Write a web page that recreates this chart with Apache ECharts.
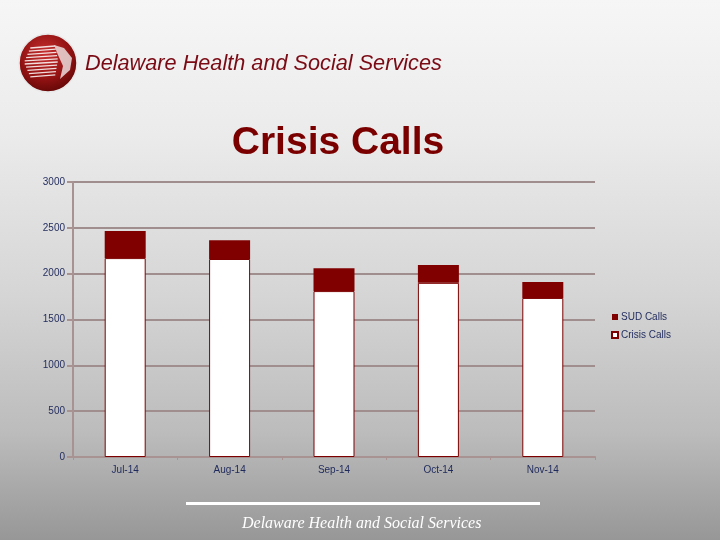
<!DOCTYPE html>
<html>
<head>
<meta charset="utf-8">
<script src="https://cdn.jsdelivr.net/npm/echarts@6/dist/echarts.min.js"></script>
<style>
html,body{margin:0;padding:0;}
#chart{width:720px;height:540px;}
</style>
</head>
<body>
<div id="chart"></div>
<script>
var categories = ['Jul-14', 'Aug-14', 'Sep-14', 'Oct-14', 'Nov-14'];
var crisisCalls = [2170, 2160, 1810, 1900, 1735];
var sudCalls = [295, 205, 250, 195, 175];
var yTicks = [0, 500, 1000, 1500, 2000, 2500, 3000];

var chart = echarts.init(document.getElementById('chart'));
var stripes = [];
for (var i = 0; i < 10; i++) {
  var yy = 48 + i * 3.2;
  stripes.push({
    type: 'line',
    shape: {x1: 24 + Math.abs(i - 4.5) * 1.4, y1: yy, x2: 58 - Math.abs(i - 4.5) * 0.6, y2: yy - 2},
    style: {stroke: 'rgba(255,255,255,0.85)', lineWidth: 1.3}
  });
}
chart.setOption({
  backgroundColor: {
    type: 'linear', x: 0, y: 0, x2: 0, y2: 1,
    colorStops: [
      {offset: 0, color: '#f6f6f6'},
      {offset: 0.25, color: '#ebebeb'},
      {offset: 0.55, color: '#d5d5d5'},
      {offset: 0.8, color: '#bcbcbc'},
      {offset: 1, color: '#979797'}
    ]
  },
  animation: false,
  title: {
    text: 'Crisis Calls',
    left: 333, top: 119, textAlign: 'center',
    textStyle: {fontFamily: 'Liberation Sans', fontWeight: 'bold', fontSize: 39, color: '#7a0000'}
  },
  legend: {
    orient: 'vertical', left: 606, top: 307, icon: 'rect',
    itemWidth: 6, itemHeight: 6, itemGap: 8,
    data: ['SUD Calls', 'Crisis Calls'],
    textStyle: {fontFamily: 'Liberation Sans', fontSize: 10, color: '#1f2a5c', padding: [0, 0, 0, -2]}
  },
  grid: {left: 73, top: 182, right: 125, bottom: 83, containLabel: false},
  xAxis: {
    type: 'category', data: categories,
    axisLine: {lineStyle: {color: '#a89292', width: 2}},
    axisTick: {show: true, length: 3, lineStyle: {color: '#a89292'}},
    axisLabel: {fontFamily: 'Liberation Sans', fontSize: 10, color: '#1f2a5c', margin: 8}
  },
  yAxis: {
    type: 'value', min: yTicks[0], max: yTicks[yTicks.length - 1], interval: 500,
    axisLine: {show: true, lineStyle: {color: '#a89292', width: 2}},
    axisTick: {show: true, length: 6, lineStyle: {color: '#a89292', width: 2}},
    splitLine: {lineStyle: {color: '#a08e8e', width: 2}},
    axisLabel: {fontFamily: 'Liberation Sans', fontSize: 10, color: '#1f2a5c', margin: 8,
      formatter: function (v) { return String(v); }}
  },
  series: [
    {
      name: 'Crisis Calls', type: 'bar', stack: 'total', data: crisisCalls, barWidth: 41,
      itemStyle: {color: '#ffffff', borderColor: '#7d0000', borderWidth: 1}
    },
    {
      name: 'SUD Calls', type: 'bar', stack: 'total', data: sudCalls, barWidth: 41,
      itemStyle: {color: '#800000', borderColor: '#800000', borderWidth: 0}
    }
  ],
  graphic: [
    {
      type: 'circle', shape: {cx: 48, cy: 63, r: 29},
      style: {
        fill: {type: 'radial', x: 0.45, y: 0.35, r: 0.7,
          colorStops: [{offset: 0, color: '#c83030'}, {offset: 0.6, color: '#921212'}, {offset: 1, color: '#5a0505'}]},
        stroke: '#e8e8e8', lineWidth: 1.5
      }
    },
    {
      type: 'group', children: stripes
    },
    {
      type: 'polygon',
      shape: {points: [[54, 45], [64, 48], [72, 58], [70, 70], [60, 79], [63, 66], [58, 55]]},
      style: {fill: 'rgba(235,220,220,0.85)'}
    },
    {
      type: 'text', left: 85, top: 53,
      style: {text: 'Delaware Health and Social Services', fontFamily: 'Liberation Sans', fontStyle: 'italic', fontSize: 21.7, fill: '#7a0a14'}
    },
    {
      type: 'rect', shape: {x: 186, y: 502, width: 354, height: 3},
      style: {fill: '#ffffff'}
    },
    {
      type: 'text', left: 242, top: 516,
      style: {text: 'Delaware Health and Social Services', fontFamily: 'Liberation Serif', fontStyle: 'italic', fontSize: 16, fill: '#ffffff'}
    }
  ]
});
</script>
</body>
</html>
